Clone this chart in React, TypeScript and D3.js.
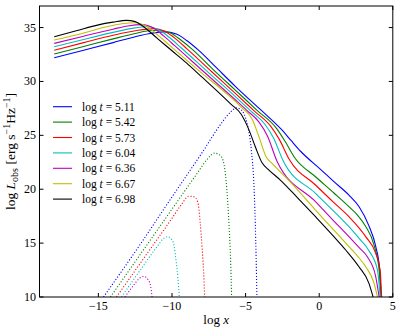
import React from 'react';
import * as d3 from 'd3';

type P = [number, number];

const logT = ['5.11', '5.42', '5.73', '6.04', '6.36', '6.67', '6.98'];
const xTicks = [-15, -10, -5, 0, 5];
const yTicks = [10, 15, 20, 25, 30, 35];

// observed luminosity curves (solid)
const sed511: P[] = [[-18,32.2],[-16,32.9],[-14,33.6],[-12.5,34.15],[-11.4,34.47],[-10.5,34.6],[-9.7,34.4],[-9.0,33.8],[-8.2,32.9],[-7.0,31.3],[-5.7,29.55],[-4.0,27.4],[-2.5,25.45],[-1.9,24.5],[-1.25,23.5],[0.09,21.85],[1.0,20.7],[2.02,19.46],[2.7,18.4],[3.38,16.6],[3.84,14.7],[4.11,12.5],[4.2,10]];
const sed542: P[] = [[-18,32.55],[-16,33.25],[-14,33.95],[-12.5,34.45],[-11.7,34.68],[-10.9,34.75],[-10.1,34.5],[-9.4,33.85],[-8.6,32.95],[-7.2,31.1],[-5.7,29.2],[-4.2,27.3],[-2.9,25.65],[-2.3,24.4],[-1.65,22.9],[-0.25,21.16],[1.0,19.65],[2.02,18.38],[2.6,17.6],[3.16,16.55],[3.73,14.8],[4.07,12.5],[4.2,10]];
const sed573: P[] = [[-18,32.9],[-16,33.6],[-14,34.28],[-12.5,34.7],[-11.25,34.9],[-10.45,34.6],[-9.75,33.95],[-9.0,33.05],[-7.3,30.9],[-5.7,28.9],[-4.4,27.25],[-3.3,25.85],[-2.7,24.6],[-2.05,22.8],[-0.25,20.39],[1.0,18.75],[2.02,17.45],[3.16,15.6],[3.84,14.05],[4.14,12.5],[4.24,10]];
const sed604: P[] = [[-18,33.22],[-16,33.9],[-14,34.55],[-12.6,34.95],[-11.65,35.07],[-10.85,34.75],[-10.15,34.05],[-9.4,33.15],[-7.5,30.8],[-5.7,28.6],[-4.6,27.2],[-3.7,26.05],[-3.1,24.75],[-2.45,22.65],[-0.25,19.62],[1.0,17.95],[2.02,16.52],[2.8,15.3],[3.38,14.3],[3.96,12.5],[4.14,10]];
const sed636: P[] = [[-18,33.53],[-16,34.2],[-14,34.85],[-13,35.15],[-12.05,35.27],[-11.25,34.95],[-10.55,34.2],[-9.8,33.3],[-7.8,30.85],[-5.7,28.3],[-4.9,27.3],[-4.1,26.25],[-3.5,24.9],[-2.85,22.55],[-0.25,18.84],[1.0,17.05],[2.02,15.6],[2.7,14.6],[3.27,13.74],[3.84,11.9],[4.07,10]];
const sed667: P[] = [[-18,33.84],[-16,34.5],[-14.5,35.05],[-13.4,35.35],[-12.5,35.45],[-11.7,35.1],[-11.0,34.35],[-10.2,33.4],[-8,30.8],[-6.4,29.0],[-5.25,27.55],[-4.55,26.5],[-4.1,24.9],[-3.6,23.0],[-3.2,22.4],[-1.84,20.5],[-0.25,18.07],[1.0,16.2],[2.02,14.67],[2.6,13.8],[3.16,12.81],[3.73,11.27],[3.96,10]];
const sed698: P[] = [[-18,34.15],[-16.5,34.7],[-15,35.25],[-14,35.5],[-13.1,35.67],[-12.5,35.55],[-12.0,35.15],[-11,34.0],[-10,32.85],[-9,31.7],[-8,30.45],[-7,29.2],[-6,27.9],[-5.3,26.95],[-4.8,25.6],[-4.34,23.94],[-3.88,22.45],[-3.43,21.8],[-2.64,20.85],[-1.5,19.25],[-0.25,17.45],[1.0,15.6],[1.8,14.36],[2.7,12.81],[3.38,11.27],[3.66,10]];

// absorbed / intrinsic components (dotted)
const abs511: P[] = [[-14.65,10],[-12,15.2],[-10.14,19.0],[-8,23.3],[-6.6,26.2],[-6.0,27.2],[-5.6,27.55],[-5.25,27.3],[-5.0,26.6],[-4.8,25.5],[-4.6,23.5],[-4.45,20.85],[-4.34,16.8],[-4.23,10]];
const abs542: P[] = [[-14.18,10],[-11,16.2],[-9,20.1],[-8.2,21.65],[-7.6,22.8],[-7.1,23.35],[-6.7,23.1],[-6.45,22.2],[-6.27,19.9],[-6.12,16.5],[-6.02,13.5],[-5.95,10]];
const abs573: P[] = [[-13.77,10],[-11.5,14.4],[-10,17.3],[-9.4,18.5],[-8.85,19.35],[-8.5,19.3],[-8.25,18.8],[-8.09,17.0],[-7.95,14.5],[-7.85,12.3],[-7.78,10]];
const abs604: P[] = [[-13.43,10],[-12,12.8],[-11,14.7],[-10.6,15.4],[-10.3,15.6],[-10.0,15.3],[-9.85,14.7],[-9.72,13.3],[-9.6,11.8],[-9.5,10]];
const abs636: P[] = [[-13.2,10],[-12.6,11.1],[-12.2,11.75],[-11.9,11.9],[-11.6,11.55],[-11.45,11.0],[-11.35,10]];

const solidSeries = [sed511, sed542, sed573, sed604, sed636, sed667, sed698];
const dottedSeries = [abs511, abs542, abs573, abs604, abs636];
const colors = ['#0000ff', '#008000', '#ff0000', '#00bfbf', '#bf00bf', '#bfbf00', '#000000'];

export default function App() {
  const W = 399, H = 332;
  const x = d3.scaleLinear().domain([-19, 5]).range([39.5, 392.8]);
  const y = d3.scaleLinear().domain([10, 37]).range([297, 6]);
  const line = d3.line<P>().x(d => x(d[0])).y(d => y(d[1])).curve(d3.curveMonotoneX);
  const x0 = x(-19), x1 = x(5), y0 = y(10), y1 = y(37);
  const fmt = (v: number) => (v < 0 ? '\u2212' + Math.abs(v) : String(v));
  const tl = 4;
  return (
    <svg width={W} height={H} style={{ position: 'absolute', left: 0, top: 0 }}
      fontFamily="'Liberation Serif', 'DejaVu Serif', serif">
      <rect width={W} height={H} fill="#fff" />
      <defs>
        <clipPath id="plotclip">
          <rect x={x0} y={y1} width={x1 - x0} height={y0 - y1} />
        </clipPath>
      </defs>
      <g clipPath="url(#plotclip)">
        {dottedSeries.map((d, i) => (
          <path key={'d' + i} d={line(d) || ''} fill="none" stroke={colors[i]} strokeWidth={1.1} strokeDasharray="1.1,1.9" />
        ))}
        {solidSeries.map((d, i) => (
          <path key={'s' + i} d={line(d) || ''} fill="none" stroke={colors[i]} strokeWidth={1.1} />
        ))}
      </g>
      <rect x={x0} y={y1} width={x1 - x0} height={y0 - y1} fill="none" stroke="#000" strokeWidth={1} />
      {xTicks.map(t => (
        <g key={'xt' + t}>
          <line x1={x(t)} x2={x(t)} y1={y0} y2={y0 - tl} stroke="#000" />
          <line x1={x(t)} x2={x(t)} y1={y1} y2={y1 + tl} stroke="#000" />
          <text x={x(t)} y={310} fontSize={12} textAnchor="middle">{fmt(t)}</text>
        </g>
      ))}
      {yTicks.map(t => (
        <g key={'yt' + t}>
          <line x1={x0} x2={x0 + tl} y1={y(t)} y2={y(t)} stroke="#000" />
          <line x1={x1} x2={x1 - tl} y1={y(t)} y2={y(t)} stroke="#000" />
          <text x={36} y={y(t) + 4} fontSize={12} textAnchor="end">{fmt(t)}</text>
        </g>
      ))}
      <text x={(x0 + x1) / 2} y={324} fontSize={13} textAnchor="middle">
        log <tspan fontStyle="italic">x</tspan>
      </text>
      <text transform={`translate(15,${(y0 + y1) / 2}) rotate(-90)`} fontSize={13.5} textAnchor="middle">
        log <tspan fontStyle="italic">L</tspan>
        <tspan fontSize={10} dy={3}>obs</tspan>
        <tspan dy={-3}> [erg s</tspan>
        <tspan fontSize={10} dy={-5}>{'\u22121'}</tspan>
        <tspan dy={5}>Hz</tspan>
        <tspan fontSize={10} dy={-5}>{'\u22121'}</tspan>
        <tspan dy={5}>]</tspan>
      </text>
      {logT.map((t, i) => {
        const ly = 106.7 + i * 15.4;
        return (
          <g key={'lg' + i}>
            <line x1={53} x2={72} y1={ly} y2={ly} stroke={colors[i]} strokeWidth={1.1} />
            <text x={82} y={ly + 4} fontSize={11.5}>
              log <tspan fontStyle="italic">t</tspan> = {t}
            </text>
          </g>
        );
      })}
    </svg>
  );
}
